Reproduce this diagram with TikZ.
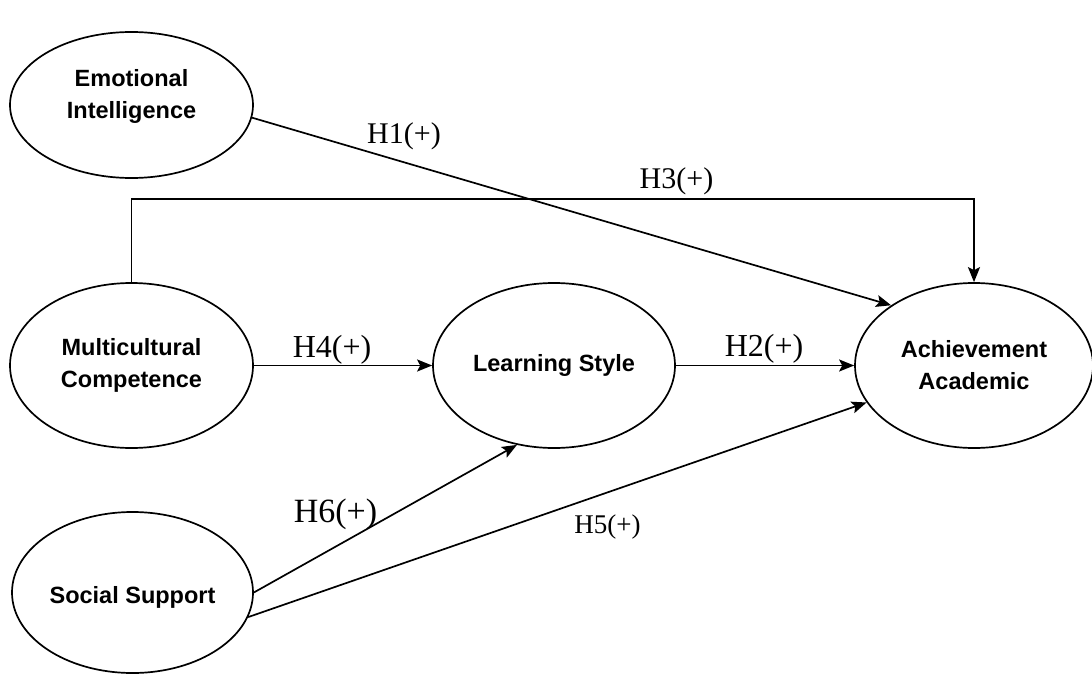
\documentclass[tikz,border=0pt]{standalone}
\usepackage{fontspec}
\setmainfont{Liberation Serif}
\newfontfamily\nodefont{Liberation Sans}
\usetikzlibrary{shapes.geometric,arrows.meta}
\tikzset{
  latent/.style={draw=black, line width=1.7pt, ellipse, inner sep=0pt,
    font=\nodefont\bfseries\fontsize{23.5}{32}\selectfont, align=center, text=black},
  lbl/.style={inner sep=0pt, align=center, font=\nodefont\bfseries\fontsize{23.5}{32}\selectfont, text=black},
  conn/.style={line width=1.7pt, draw=black, -{Stealth[length=15pt,width=12pt,inset=3pt]}},
  hyp/.style={inner sep=0pt, anchor=base, text=black},
}
\begin{document}
\begin{tikzpicture}[x=1pt,y=-1pt]
\useasboundingbox (0,0) rectangle (1092,674);
% constructs
\node[latent, minimum width=243pt, minimum height=146pt] (EI) at (131.5,105) {};
\node[lbl] (EIt) at (131.5,96) {Emotional\\Intelligence};
\node[latent, minimum width=243pt, minimum height=165pt] (MC) at (131.5,365.5) {Multicultural\\Competence};
\node[latent, minimum width=241pt, minimum height=161pt] (SS) at (132.5,592.5) {};
\node[lbl] (SSt) at (132.5,597) {Social Support};
\node[latent, minimum width=242pt, minimum height=165pt] (LS) at (554,365.5) {Learning Style};
\node[latent, minimum width=238pt, minimum height=165pt] (Ach) at (974,365.5) {Achievement\\Academic};
% helper
\coordinate (h3y) at (0,199);
% connectors
\draw[conn] (EI.-6) -- (Ach.144);
\draw[conn] (MC.north) -- (MC.north |- h3y) -| (Ach.north);
\draw[conn] (MC.east) -- (LS.west);
\draw[conn] (LS.east) -- (Ach.west);
\draw[conn] (SS.east) -- (LS.-115);
\draw[conn] (SS.-12.5) -- (Ach.199.3);
% labels
\node[hyp, font=\fontsize{30}{36}\selectfont] (l1) at (404,143) {H1(+)};
\node[hyp, font=\fontsize{30}{36}\selectfont] (l3) at (676.5,188) {H3(+)};
\node[hyp, font=\fontsize{32}{38}\selectfont] (l4) at (332,357) {H4(+)};
\node[hyp, font=\fontsize{32}{38}\selectfont] (l2) at (764,356) {H2(+)};
\node[hyp, font=\fontsize{34}{40}\selectfont] (l6) at (335.5,522) {H6(+)};
\node[hyp, font=\fontsize{27}{32}\selectfont] (l5) at (607.5,533) {H5(+)};
\end{tikzpicture}
\end{document}
